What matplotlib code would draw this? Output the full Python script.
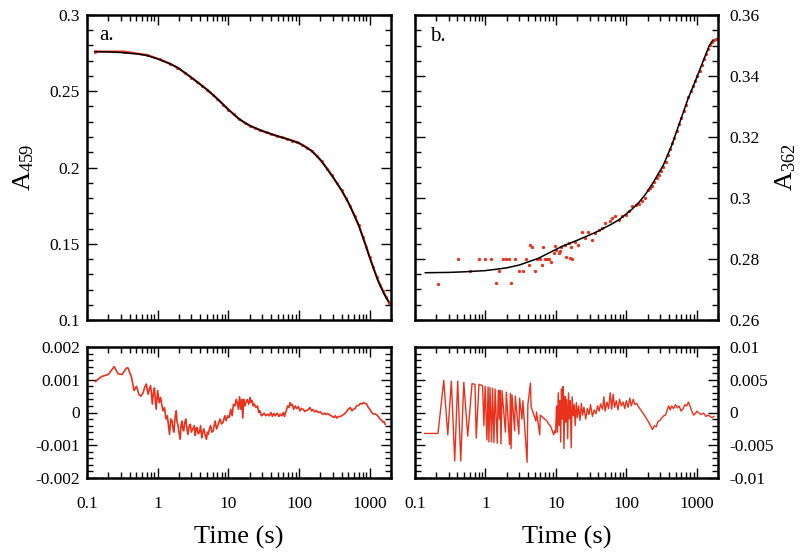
import matplotlib
matplotlib.use("Agg")
import matplotlib.pyplot as plt
from matplotlib.ticker import NullFormatter, FixedLocator

plt.rcParams['font.family'] = ['Liberation Serif', 'DejaVu Serif']
plt.rcParams['mathtext.fontset'] = 'custom'
plt.rcParams['mathtext.rm'] = 'Liberation Serif'
plt.rcParams['mathtext.it'] = 'Liberation Serif'

RED = '#e8321c'

# ---------------- panel a: A459 ----------------
fit_a_t = [0.13, 0.2, 0.3, 0.5, 0.7, 1.0, 1.5, 2.0, 3.0, 4.0, 5.0, 7.0, 10, 14, 20, 30,
           50, 70, 100, 150, 200, 300, 400, 500, 700, 1000, 1300, 1600, 1850]
fit_a_v = [0.2760, 0.2758, 0.2754, 0.2745, 0.2735, 0.2712, 0.2680, 0.2650, 0.2590, 0.2545,
           0.2510, 0.2450, 0.2380, 0.2320, 0.2275, 0.2240, 0.2205, 0.2185, 0.2160, 0.2110,
           0.2050, 0.1940, 0.1850, 0.1770, 0.1620, 0.1410, 0.1260, 0.1170, 0.1120]

data_a_t = [0.13, 0.33, 0.7, 1.07, 1.5, 1.9, 2.4, 3.0, 3.6, 4.3, 5.0, 6.0, 7.0, 8.5, 10, 12,
            14, 17, 20, 24, 28, 34, 40, 48, 57, 68, 80, 95, 110, 130, 155, 180, 210, 250,
            290, 340, 400, 460, 530, 610, 700, 800, 900, 1000, 1120, 1250, 1400, 1550,
            1700, 1900]
data_a_v = [0.2760, 0.2760, 0.2738, 0.2709, 0.2680, 0.2655, 0.2622, 0.2590, 0.2562, 0.2535,
            0.2510, 0.2478, 0.2450, 0.2412, 0.2380, 0.2348, 0.2320, 0.2293, 0.2275, 0.2258,
            0.2245, 0.2232, 0.2220, 0.2208, 0.2198, 0.2187, 0.2177, 0.2164, 0.2150, 0.2130,
            0.2105, 0.2075, 0.2040, 0.1993, 0.1948, 0.1900, 0.1850, 0.1800, 0.1745, 0.1685,
            0.1620, 0.1545, 0.1478, 0.1410, 0.1345, 0.1285, 0.1230, 0.1190, 0.1150, 0.1110]

res_a_t = [0.132, 0.161, 0.2, 0.242, 0.276, 0.314, 0.362, 0.38, 0.426, 0.463, 0.5, 0.546,
           0.58, 0.62, 0.656, 0.69, 0.73, 0.76, 0.795, 0.84, 0.87, 0.9, 0.95, 1.0, 1.05,
           1.1, 1.15, 1.19, 1.25, 1.31, 1.37, 1.42, 1.47, 1.53, 1.6, 1.65, 1.7, 1.77, 1.83,
           1.88, 1.93, 2.0, 2.08, 2.14, 2.2, 2.27, 2.33, 2.42, 2.5, 2.6, 2.68, 2.8, 2.9,
           3.0, 3.15, 3.3, 3.4, 3.5, 3.6, 3.75, 3.9, 4.05, 4.2, 4.35, 4.5, 4.7, 4.9, 5.05,
           5.2, 5.4, 5.6, 5.85, 6.1, 6.3, 6.5, 6.8, 7.1, 7.35, 7.6, 8.0, 8.4, 8.9, 9.3,
           9.8, 10.3, 10.8, 11.3, 11.8, 12.4, 12.9, 13.4, 13.9, 14.4, 15, 15.5, 16, 16.5,
           17.1, 17.7, 18.5, 19.4, 20.3, 21, 21.8, 22.5, 23.3, 24.5, 25.8, 27, 28, 29.3,
           30.6, 32, 34, 36, 38, 40, 42, 44, 46, 49, 52, 54, 57, 60, 62, 66, 69, 72, 74.5,
           77, 80, 84, 88, 93, 98, 103, 108, 114, 121, 130, 136, 143, 150, 158, 166, 175,
           187, 200, 210, 220, 232, 243, 255, 268, 285, 310, 325, 340, 360, 380, 400, 420,
           440, 460, 495, 530, 560, 590, 620, 650, 700, 740, 780, 820, 860, 900, 960,
           1020, 1070, 1130, 1190, 1250, 1320, 1400, 1480, 1550, 1600, 1650]
res_a_v = [0.00095, 0.0011, 0.00116, 0.0014, 0.00118, 0.00116, 0.00136, 0.00136, 0.00108,
           0.00067, 0.0008, 0.00054, 0.0005, 0.0006, 0.00077, 0.00087, 0.00056, 0.0007,
           0.00082, 0.00026, 0.0006, 0.00075, 0.0001, 0.00067, 0.0003, 0.00046, 0.0002,
           0.00005, 0.00015, -0.0002, -0.0001, -0.0004, -0.00067, -0.0002, -0.00026,
           -0.0005, -0.0006, -0.0001, 0.00005, -0.0003, -0.00036, -0.0006, -0.00082,
           -0.0004, -0.00026, -0.0005, -0.00056, -0.0003, -0.0002, -0.0005, -0.00067,
           -0.0004, -0.00036, -0.0006, -0.0005, -0.0004, -0.0007, -0.0005, -0.00046,
           -0.00065, -0.0006, -0.0004, -0.00077, -0.0006, -0.0005, -0.0007, -0.00082,
           -0.0006, -0.00067, -0.0005, -0.0004, -0.0006, -0.00056, -0.0004, -0.00026,
           -0.0005, -0.0004, -0.0003, -0.0002, -0.00035, -0.0003, -0.0001, -0.00025,
           -0.0001, -0.00015, 0.0001, -0.0001, 0.00025, 0.0002, 0.0004, 0.0003, 0.0001,
           0.00048, 0.0001, 0.0004, -0.00017, 0.0004, 0.0002, 0.0003, 0.0004, 0.00025,
           0.00046, 0.0003, 0.00036, 0.0002, 0.00026, 0.00015, 0.0002, 0.0, 0.00005,
           -0.0001, -0.00007, -0.00002, -0.0001, -0.00005, -0.0001, 0.0, -0.00012,
           -0.00003, -0.0001, -0.00002, -0.00012, -0.00005, -0.0001, 0.0, -0.00012,
           0.00005, 0.0002, 0.00015, 0.0003, 0.00022, 0.00025, 0.0001, 0.0002, 0.00012,
           0.00018, 0.00005, 0.00012, 0.0001, 0.00003, 0.00007, 0.0001, 0.00015, 0.00005,
           0.00009, 0.00002, 0.00006, 0.0, 0.00002, -0.00004, -0.00005, -0.00002,
           -0.00006, -0.00003, -0.00007, -0.0001, -0.00015, -0.0001, -0.00017, -0.00012,
           -0.00013, -0.0001, -0.00007, -0.00004, 0.0, 0.0001, 0.00015, 0.00005, 0.0001,
           0.00012, 0.0002, 0.00022, 0.00028, 0.00026, 0.0003, 0.00028, 0.00026, 0.00015,
           0.00007, 0.0, -0.00005, -0.00004, -0.00007, -0.00012, -0.0002, -0.00024,
           -0.0003, -0.00028, -0.00036]

# ---------------- panel b: A362 ----------------
fit_b_t = [0.14, 0.3, 0.5, 1.0, 1.5, 2.0, 3.0, 5.6, 8.0, 12.1, 20.9, 36.3, 62.6, 80,
           97.5, 120, 150, 187, 242, 334, 438, 573, 750, 982, 1218, 1512, 1683]
fit_b_v = [0.2755, 0.2756, 0.2758, 0.2762, 0.2767, 0.2771, 0.2780, 0.2802, 0.2820, 0.2841,
           0.2863, 0.2887, 0.2915, 0.2930, 0.2946, 0.2963, 0.2985, 0.3012, 0.3052, 0.3107,
           0.3171, 0.3248, 0.3325, 0.3391, 0.3446, 0.3501, 0.3517]

data_b_t = [0.212, 0.409, 0.61, 0.81, 0.98, 1.2, 1.39, 1.58, 1.77, 1.97, 2.17, 2.34, 2.62,
            3.0, 3.4, 3.8, 4.2, 4.3, 4.6, 4.97, 5.4, 5.9, 6.3, 6.5, 7.0, 7.5, 8.0, 8.6,
            9.3, 9.7, 10, 11, 11.5, 12, 13.5, 14, 15.1, 16, 16.5, 17, 18.8, 20.9, 23.4,
            26.1, 29, 32.5, 36.3, 40.4, 45, 50.5, 59.5, 62.6, 70, 78, 87, 97.5, 108, 121,
            135, 151, 168, 187, 200, 215, 230, 250, 270, 290, 310, 335, 360, 390, 420, 450,
            480, 520, 560, 600, 650, 700, 760, 820, 880, 950, 1020, 1100, 1180, 1260,
            1350, 1450, 1550, 1650, 1750, 1850, 1950]
data_b_v = [0.2719, 0.2799, 0.2762, 0.2800, 0.2800, 0.2800, 0.2720, 0.2760, 0.2800, 0.2800,
            0.2800, 0.2720, 0.2800, 0.2760, 0.2760, 0.2800, 0.2780, 0.2846, 0.2840, 0.2760,
            0.2800, 0.2800, 0.2780, 0.2840, 0.2800, 0.2800, 0.2800, 0.2790, 0.2820, 0.2843,
            0.2830, 0.2820, 0.2826, 0.2840, 0.2846, 0.2808, 0.2852, 0.2802, 0.2840, 0.2800,
            0.2857, 0.2846, 0.2887, 0.2870, 0.2890, 0.2863, 0.2885, 0.2896, 0.2901, 0.2918,
            0.2925, 0.2936, 0.2940, 0.2929, 0.2940, 0.2945, 0.2956, 0.2973, 0.2978, 0.2980,
            0.2989, 0.3000, 0.3025, 0.3032, 0.3040, 0.3052, 0.3065, 0.3075, 0.3088, 0.3103,
            0.3118, 0.3140, 0.3160, 0.3180, 0.3198, 0.3220, 0.3242, 0.3262, 0.3285, 0.3305,
            0.3330, 0.3350, 0.3368, 0.3385, 0.3400, 0.3418, 0.3436, 0.3455, 0.3472, 0.3490,
            0.3503, 0.3512, 0.3518, 0.3522, 0.3520]

res_b_t = [0.137, 0.212, 0.256, 0.292, 0.328, 0.366, 0.404, 0.446, 0.493, 0.56, 0.645,
           0.71, 0.74, 0.81, 0.91, 0.95, 0.99, 1.05, 1.09, 1.12, 1.16, 1.22, 1.26, 1.32,
           1.37, 1.47, 1.52, 1.58, 1.62, 1.66, 1.72, 1.92, 1.98, 2.2, 2.26, 2.31, 2.38,
           2.6, 2.65, 2.98, 3.05, 3.3, 3.4, 3.9, 4.0, 4.35, 4.45, 5.2, 5.3, 5.9, 6.0,
           6.6, 7.5, 7.7, 8.5, 9.3, 9.6, 9.9, 10.2, 10.5, 10.8, 11.1, 11.4, 11.7, 12.0,
           12.3, 12.7, 13.0, 13.4, 13.8, 14.2, 14.7, 15.1, 15.6, 16.0, 16.5, 17.0, 17.6,
           18.2, 18.8, 19.5, 20.2, 21, 22, 23, 24, 25, 26.5, 28, 29.5, 31, 33, 35, 37,
           39, 41, 43, 46, 48, 50, 53, 56, 59, 62, 65, 68, 72, 76, 80, 85, 90, 95, 100,
           106, 112, 118, 125, 132, 140, 150, 160, 175, 190, 205, 220, 235, 250, 265,
           280, 300, 320, 340, 360, 380, 400, 420, 440, 470, 500, 530, 560, 600, 640,
           680, 720, 760, 800, 850, 900, 950, 1000, 1080, 1150, 1250, 1350, 1450, 1550,
           1650, 1750]
res_b_v = [-0.0032, -0.0032, 0.0049, -0.0034, 0.0048, -0.0074, 0.0048, -0.0074, 0.0046,
           -0.0036, 0.0044, 0.0043, -0.0039, 0.0043, 0.0041, -0.0020, 0.0040, -0.0042,
           0.0039, -0.0045, 0.0038, -0.0045, 0.0037, -0.0046, 0.0036, -0.0047, 0.0034,
           -0.0010, 0.0034, -0.0048, 0.0033, -0.0030, 0.0031, -0.0049, 0.0029, -0.0055,
           0.0027, -0.0028, 0.0025, -0.0033, 0.0022, -0.0010, 0.0018, -0.0076, 0.0012,
           0.0045, 0.0009, -0.0013, 0.0001, -0.0034, -0.0004, -0.0008, -0.0013, -0.0016,
           -0.0022, -0.0034, -0.0028, -0.0031, 0.0010, -0.0030, 0.0030, -0.0020, 0.0018,
           -0.0045, 0.0036, -0.0010, 0.0040, -0.0055, 0.0025, -0.0015, 0.0020, -0.0040,
           0.0030, -0.0010, 0.0018, -0.0054, 0.0024, -0.0005, 0.0012, -0.0020, 0.0015,
           -0.0008, 0.0010, -0.0012, 0.0014, -0.0004, 0.0008, -0.0010, 0.0006, -0.0003,
           0.0012, -0.0006, 0.0004, -0.0002, 0.0010, 0.0002, 0.0013, 0.0005, 0.0024,
           0.0002, 0.0016, 0.0006, 0.0030, 0.0005, 0.0028, 0.0008, 0.0018, 0.0004, 0.0020,
           0.0010, 0.0016, 0.0006, 0.0018, 0.0008, 0.0022, 0.0010, 0.0020, 0.0012, 0.0014,
           0.0008, 0.0004, -0.0002, -0.0008, -0.0014, -0.0020, -0.0026, -0.0020, -0.0022,
           -0.0014, -0.0012, -0.0008, -0.0005, -0.0004, 0.0004, 0.0010, 0.0004, 0.0010,
           0.0006, 0.0012, 0.0007, 0.0010, 0.0002, 0.0006, 0.0012, 0.0010, 0.0016, 0.0010,
           0.0002, -0.0004, -0.0002, 0.0002, -0.0001, -0.0003, -0.0001, -0.0006, -0.0004,
           -0.0006, -0.0008, -0.0006]

x_ticks = [0.1, 1, 10, 100, 1000]
x_labels = ['0.1', '1', '10', '100', '1000']
ya_ticks = [0.1, 0.15, 0.2, 0.25, 0.3]
ya_labels = ['0.1', '0.15', '0.2', '0.25', '0.3']
yb_ticks = [0.26, 0.28, 0.3, 0.32, 0.34, 0.36]
yb_labels = ['0.26', '0.28', '0.3', '0.32', '0.34', '0.36']
ra_ticks = [-0.002, -0.001, 0, 0.001, 0.002]
ra_labels = ['-0.002', '-0.001', '0', '0.001', '0.002']
rb_ticks = [-0.01, -0.005, 0, 0.005, 0.01]
rb_labels = ['-0.01', '-0.005', '0', '0.005', '0.01']

fig = plt.figure(figsize=(8.0, 5.57), dpi=100)
W, H = 800.0, 557.0


def add_ax(x0, x1, y0, y1):
    return fig.add_axes([x0 / W, 1 - y1 / H, (x1 - x0) / W, (y1 - y0) / H])


ax_a = add_ax(87, 391, 15, 320)
ax_ra = add_ax(87, 391, 347, 478)
ax_b = add_ax(415, 718, 15, 320)
ax_rb = add_ax(415, 718, 347, 478)


def style(ax, right=False, xlabels=False):
    ax.set_xscale('log')
    ax.set_xlim(0.1, 2000)
    ax.set_xticks(x_ticks)
    ax.set_xticklabels(x_labels if xlabels else [''] * len(x_ticks))
    ax.xaxis.set_minor_formatter(NullFormatter())
    for s in ax.spines.values():
        s.set_linewidth(1.8)
    ax.tick_params(which='both', direction='in', top=True, bottom=True,
                   left=True, right=True, width=1.0, labelsize=12.5)
    ax.tick_params(which='major', length=7)
    ax.tick_params(which='minor', length=4)
    ax.tick_params(axis='x', pad=13)
    if right:
        ax.tick_params(axis='y', labelleft=False, labelright=True, pad=8)
    else:
        ax.tick_params(axis='y', pad=5)


# panel a
ax_a.plot(data_a_t, data_a_v, 'o', color=RED, ms=2.2, mew=0, zorder=2)
ax_a.plot(data_a_t, data_a_v, '-', color=RED, lw=1.6, zorder=1)
ax_a.plot(fit_a_t, fit_a_v, '-', color='black', lw=1.1, zorder=3)
ax_a.set_ylim(0.1, 0.3)
ax_a.set_yticks(ya_ticks)
ax_a.set_yticklabels(ya_labels)
ax_a.yaxis.set_minor_locator(FixedLocator([0.1 + 0.01 * i for i in range(21)]))
style(ax_a)
ax_a.text(0.04, 0.965, 'a.', transform=ax_a.transAxes, fontsize=15, va='top', ha='left')
ax_a.set_ylabel('A$_{459}$', fontsize=19, labelpad=10)

# residual a
ax_ra.plot(res_a_t, res_a_v, '-', color=RED, lw=1.2)
ax_ra.set_ylim(-0.002, 0.002)
ax_ra.set_yticks(ra_ticks)
ax_ra.set_yticklabels(ra_labels)
ax_ra.yaxis.set_minor_locator(FixedLocator([-0.002 + 0.0002 * i for i in range(21)]))
style(ax_ra, xlabels=True)
ax_ra.set_xlabel('Time (s)', fontsize=19, labelpad=10)

# panel b
ax_b.plot(data_b_t, data_b_v, 'o', color=RED, ms=2.4, mew=0, zorder=2)
ax_b.plot(fit_b_t, fit_b_v, '-', color='black', lw=1.1, zorder=3)
ax_b.set_ylim(0.26, 0.36)
ax_b.set_yticks(yb_ticks)
ax_b.set_yticklabels(yb_labels)
ax_b.yaxis.set_minor_locator(FixedLocator([0.26 + 0.005 * i for i in range(21)]))
style(ax_b, right=True)
ax_b.text(0.05, 0.96, 'b.', transform=ax_b.transAxes, fontsize=15, va='top', ha='left')
ax_b.yaxis.set_label_position('right')
ax_b.set_ylabel('A$_{362}$', fontsize=19, labelpad=10)

# residual b
ax_rb.plot(res_b_t, res_b_v, '-', color=RED, lw=1.0)
ax_rb.set_ylim(-0.01, 0.01)
ax_rb.set_yticks(rb_ticks)
ax_rb.set_yticklabels(rb_labels)
ax_rb.yaxis.set_minor_locator(FixedLocator([-0.01 + 0.001 * i for i in range(21)]))
style(ax_rb, right=True, xlabels=True)
ax_rb.set_xlabel('Time (s)', fontsize=19, labelpad=10)

fig.savefig('out.png', dpi=100)
